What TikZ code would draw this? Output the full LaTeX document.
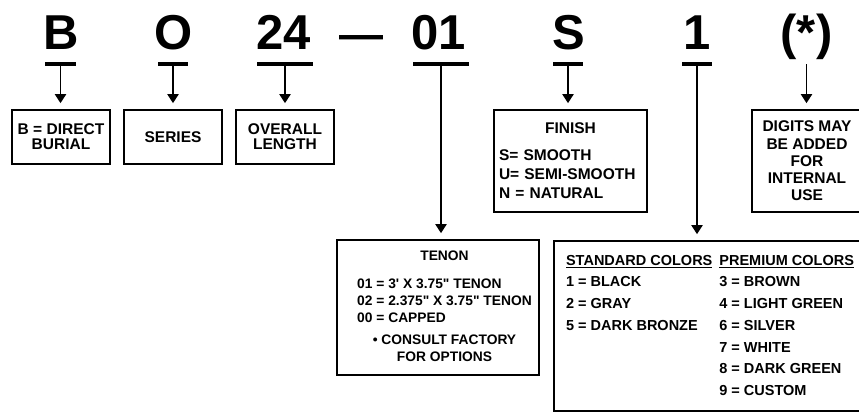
\documentclass[tikz,border=0pt]{standalone}
\usepackage{fontspec}
\setmainfont{Liberation Sans}
\usetikzlibrary{arrows.meta}

\begin{document}
\begin{tikzpicture}[x=1pt,y=-1pt,
  code/.style={font=\fontsize{49}{49}\selectfont\bfseries, anchor=base, inner sep=0pt},
  bar/.style={fill=black, inner sep=0pt, minimum height=3.5pt},
  box/.style={draw, line width=1.6pt, inner sep=0pt, align=center,
    font=\fontsize{15.5}{15}\selectfont\bfseries},
  pointer/.style={line width=1.9pt, -{Triangle[width=11pt,length=9pt]}, shorten >=6pt}]
  \useasboundingbox (0,0) rectangle (859,412);
  % part number
  \node[code] (cB) at (61,50) {B};
  \node[code] (cO) at (173.5,50) {O};
  \node[code] (c24) at (284,50) {24};
  \node[code, font=\fontsize{44}{44}\selectfont\bfseries] (cdash) at (361,50) {—};
  \node[code] (c01) at (439,50) {01};
  \node[code] (cS) at (568.5,50) {S};
  \node[code] (c1) at (697,50) {1};
  \node[code] (cstar) at (806.5,50) {(*)};
  % bars under the code
  \node[bar, minimum width=31pt] (bB) at (60.5,64) {};
  \node[bar, minimum width=30pt] (bO) at (173,64) {};
  \node[bar, minimum width=56pt] (b24) at (285,64) {};
  \node[bar, minimum width=56pt] (b01) at (441,64) {};
  \node[bar, minimum width=30pt] (bS) at (568,64) {};
  \node[bar, minimum width=30pt] (b1) at (697,64) {};
  % upper boxes
  \node[box, minimum width=98pt, minimum height=54pt] (burial) at (61,137) {B = DIRECT\\BURIAL};
  \node[box, minimum width=98pt, minimum height=54pt] (series) at (173,137) {SERIES};
  \node[box, minimum width=98pt, minimum height=54pt] (length) at (285,137) {OVERALL\\LENGTH};
  \node[box, minimum width=153pt, minimum height=102pt, text width=143pt, align=left,
    font=\fontsize{15.5}{19}\selectfont\bfseries] (finish) at (570.5,161)
    {\hfil FINISH\hfil\\[8pt] S= SMOOTH\\ U= SEMI-SMOOTH\\ N = NATURAL\\[3pt]};
  \node[box, minimum width=110pt, minimum height=102pt,
    font=\fontsize{15.5}{17.3}\selectfont\bfseries] (digits) at (807,161)
    {DIGITS MAY\\BE ADDED\\FOR\\INTERNAL\\USE};
  % lower boxes
  \node[box, minimum width=202pt, minimum height=135pt,
    font=\fontsize{13.8}{17}\selectfont\bfseries] (tenon) at (438,307.5)
    {\begin{tabular}{@{\hspace{13pt}}l@{}}
     \multicolumn{1}{@{\hspace{13pt}}c@{}}{TENON}\\[11pt]
     01 = 3\textquotesingle\ X 3.75\textquotedbl\ TENON\\
     02 = 2.375\textquotedbl\ X 3.75\textquotedbl\ TENON\\
     00 = CAPPED\\[5pt]
     \multicolumn{1}{@{\hspace{13pt}}c@{}}{\textbullet\ CONSULT FACTORY}\\
     \multicolumn{1}{@{\hspace{13pt}}c@{}}{FOR OPTIONS}
     \end{tabular}};
  \node[box, minimum width=312pt, minimum height=170pt,
    font=\fontsize{14.5}{21.7}\selectfont\bfseries] (colors) at (710,326)
    {\begin{tabular}{@{}l@{\hspace{7pt}}l@{}}
     \underline{STANDARD COLORS} & \underline{PREMIUM COLORS}\\
     1 = BLACK & 3 = BROWN\\
     2 = GRAY & 4 = LIGHT GREEN\\
     5 = DARK BRONZE & 6 = SILVER\\
      & 7 = WHITE\\
      & 8 = DARK GREEN\\
      & 9 = CUSTOM
     \end{tabular}};
  % pointers
  \draw[pointer] (bB.south) -- (bB.south |- burial.north);
  \draw[pointer] (bO.south) -- (bO.south |- series.north);
  \draw[pointer] (b24.south) -- (b24.south |- length.north);
  \draw[pointer] (b01.south) -- (b01.south |- tenon.north);
  \draw[pointer] (bS.south) -- (bS.south |- finish.north);
  \draw[pointer] (b1.south) -- (b1.south |- colors.north);
  \draw[pointer, shorten <=4pt] (cstar.south) -- (cstar.south |- digits.north);
\end{tikzpicture}
\end{document}
